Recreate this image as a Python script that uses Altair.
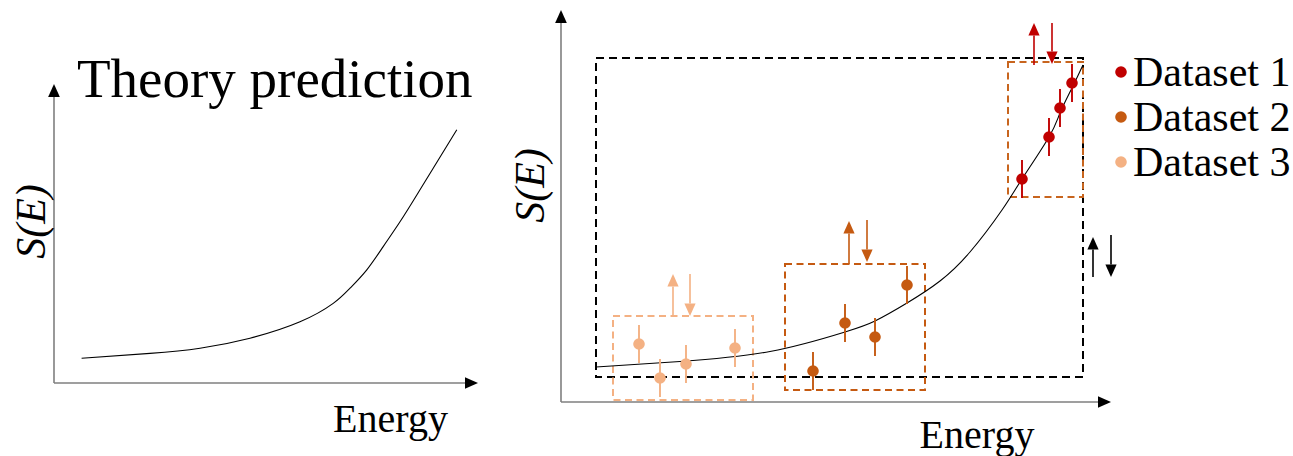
import altair as alt
import pandas as pd

# ---------------- data (arbitrary units: Energy, S(E)) ----------------
# Left panel: theory prediction
theory_energy = [0.69, 2.4, 3.65, 4.9, 6.15, 6.98, 7.4, 7.82, 8.23, 8.65, 9.07, 9.48, 10.07]
theory_s = [0.62, 0.74, 0.87, 1.12, 1.53, 1.99, 2.37, 2.83, 3.41, 4.03, 4.7, 5.37, 6.33]

# Right panel: curve through the measurements
fit_energy = [0.875, 2.975, 5.225, 7.1, 7.85, 8.65, 9.475, 10.225, 11.025, 11.525,
              12.2, 12.475, 12.775, 13.05]
fit_s = [0.875, 1.0125, 1.2625, 1.75, 2.025, 2.475, 3.025, 3.75, 4.8, 5.575,
         6.625, 7.225, 7.85, 8.425]

datasets = ["Dataset 1", "Dataset 2", "Dataset 3"]
colors = ["#C00000", "#C55A11", "#F4B183"]

ds1_energy = [11.525, 12.2, 12.475, 12.775]
ds1_s = [5.575, 6.625, 7.35, 7.975]
ds1_err = [0.475, 0.475, 0.475, 0.475]

ds2_energy = [6.3, 7.1, 7.85, 8.65]
ds2_s = [0.775, 1.975, 1.625, 2.925]
ds2_err = [0.475, 0.475, 0.475, 0.475]

ds3_energy = [1.95, 2.475, 3.125, 4.35]
ds3_s = [1.45, 0.6, 0.95, 1.35]
ds3_err = [0.475, 0.475, 0.475, 0.475]

# Normalisation windows (dashed boxes)
box_group = ["all", "Dataset 1", "Dataset 2", "Dataset 3"]
box_e0 = [0.875, 11.175, 5.6, 1.3]
box_e1 = [13.05, 13.05, 9.1, 4.8]
box_s0 = [0.625, 5.125, 0.3, 0.05]
box_s1 = [8.6, 8.5, 3.45, 2.15]

# Shift arrows (energy, start, tip)
arrow_group = ["Dataset 3", "Dataset 3", "Dataset 2", "Dataset 2",
               "Dataset 1", "Dataset 1", "all", "all"]
arrow_e = [2.8, 3.225, 7.2, 7.65, 11.825, 12.275, 13.3, 13.75]
arrow_from = [2.15, 3.2, 3.45, 4.55, 8.425, 9.475, 3.125, 4.175]
arrow_to = [3.2, 2.15, 4.525, 3.5, 9.475, 8.45, 4.125, 3.125]

# Legend rows
legend_s = [8.25, 7.125, 6.0]
legend_e = 14.0

# Axis extents (arrow tips)
left_axis_tip_e, left_axis_tip_s = 10.6, 7.475
right_axis_tip_e, right_axis_tip_s = 13.75, 9.8

# ---------------- layout ----------------
PX = 40.0            # pixels per data unit in both panels
W, H = 1293, 456
SPLIT = 500          # left panel occupies [0, SPLIT), right panel the rest
LEFT_ORIGIN = (54, 383)
RIGHT_ORIGIN = (561, 402)
FONT = "Liberation Serif"
AXIS_GREY = "#7f7f7f"

UP = "M0,-1L0.9,1L-0.9,1Z"
DOWN = "M0,1L0.9,-1L-0.9,-1Z"
RIGHT = "M1,0L-1,-0.9L-1,0.9Z"

color_of = dict(zip(datasets, colors))
color_of["all"] = "#000000"
box_color = {"all": "#000000", "Dataset 1": "#C8651E",
             "Dataset 2": "#C55A11", "Dataset 3": "#F4B183"}


def make_scales(origin, x0, x1):
    """Scales of one panel spanning pixels [x0, x1] horizontally."""
    ox, oy = origin
    xs = alt.Scale(domain=[(x0 - ox) / PX, (x1 - ox) / PX], range=[x0, x1],
                   nice=False, zero=False)
    ys = alt.Scale(domain=[-(H - oy) / PX, oy / PX], range=[H, 0],
                   nice=False, zero=False)
    return xs, ys


def enc(xs, ys, xf="e", yf="s"):
    return dict(x=alt.X(xf, type="quantitative", scale=xs, axis=None),
                y=alt.Y(yf, type="quantitative", scale=ys, axis=None))


def axis_layers(xs, ys, tip_e, tip_s):
    head = 13.0 / PX
    shafts = pd.DataFrame({"e": [0.0, 0.0], "s": [0.0, 0.0],
                           "e2": [0.0, tip_e - head], "s2": [tip_s - head, 0.0]})
    rules = alt.Chart(shafts).mark_rule(color=AXIS_GREY, strokeWidth=1.6).encode(
        x2="e2:Q", y2="s2:Q", **enc(xs, ys))
    up = alt.Chart(pd.DataFrame({"e": [0.0], "s": [tip_s - head / 2]})).mark_point(
        shape=UP, filled=True, size=169, color="black", opacity=1, strokeWidth=0
    ).encode(**enc(xs, ys))
    right = alt.Chart(pd.DataFrame({"e": [tip_e - head / 2], "s": [0.0]})).mark_point(
        shape=RIGHT, filled=True, size=169, color="black", opacity=1, strokeWidth=0
    ).encode(**enc(xs, ys))
    return [rules, up, right]


def text_layer(xs, ys, e, s, text, size, align="center", baseline="alphabetic",
               angle=0, style="normal"):
    df = pd.DataFrame({"e": [e], "s": [s], "t": [text]})
    return alt.Chart(df).mark_text(
        font=FONT, fontSize=size, align=align, baseline=baseline, angle=angle,
        fontStyle=style, color="black").encode(text="t:N", **enc(xs, ys))


# ---------------- left panel ----------------
lxs, lys = make_scales(LEFT_ORIGIN, 0, SPLIT)
theory = pd.DataFrame({"e": theory_energy, "s": theory_s})
left_curve = alt.Chart(theory).mark_line(
    color="black", strokeWidth=1.1, interpolate="natural").encode(**enc(lxs, lys))

left = alt.layer(
    *axis_layers(lxs, lys, left_axis_tip_e, left_axis_tip_s),
    left_curve,
    text_layer(lxs, lys, 0.575, 7.15, "Theory prediction", 55, align="left"),
    text_layer(lxs, lys, 8.4125, -1.225, "Energy", 40),
    text_layer(lxs, lys, -0.225, 4.0375, "S(E)", 42, angle=270, style="italic"),
)

# ---------------- right panel ----------------
rxs, rys = make_scales(RIGHT_ORIGIN, SPLIT, W)

boxes = pd.DataFrame({"g": box_group, "e0": box_e0, "e1": box_e1,
                      "s0": box_s0, "s1": box_s1})
boxes["c"] = boxes["g"].map(box_color)
black_box = alt.Chart(boxes[boxes.g == "all"]).mark_rect(
    fillOpacity=0, strokeWidth=2, strokeDash=[8, 5]).encode(
    x2="e1:Q", y2="s1:Q", stroke=alt.Color("c:N", scale=None),
    **enc(rxs, rys, "e0", "s0"))
color_boxes = alt.Chart(boxes[boxes.g != "all"]).mark_rect(
    fillOpacity=0, strokeWidth=2, strokeDash=[7, 4.5]).encode(
    x2="e1:Q", y2="s1:Q", stroke=alt.Color("c:N", scale=None),
    **enc(rxs, rys, "e0", "s0"))

fit = pd.DataFrame({"e": fit_energy, "s": fit_s})
right_curve = alt.Chart(fit).mark_line(
    color="black", strokeWidth=1.1, interpolate="natural").encode(**enc(rxs, rys))

points = pd.concat([
    pd.DataFrame({"g": name, "e": e, "s": s, "err": err})
    for name, e, s, err in [
        ("Dataset 3", ds3_energy, ds3_s, ds3_err),
        ("Dataset 2", ds2_energy, ds2_s, ds2_err),
        ("Dataset 1", ds1_energy, ds1_s, ds1_err),
    ]
], ignore_index=True)
points["c"] = points["g"].map(color_of)
points["lo"] = points["s"] - points["err"]
points["hi"] = points["s"] + points["err"]

err_bars = alt.Chart(points).mark_rule(strokeWidth=1.9).encode(
    y2="hi:Q", color=alt.Color("c:N", scale=None), **enc(rxs, rys, "e", "lo"))
dots = alt.Chart(points).mark_circle(size=135, opacity=1).encode(
    color=alt.Color("c:N", scale=None), **enc(rxs, rys))

# shift arrows: shaft up to the head base, then a triangular head
HEAD = 12.5 / PX
arrows = pd.DataFrame({"g": arrow_group, "e": arrow_e,
                       "s0": arrow_from, "tip": arrow_to})
arrows["c"] = arrows["g"].map(color_of)
arrows["dir"] = [1 if t > f else -1 for f, t in zip(arrows.s0, arrows.tip)]
arrows["s1"] = arrows["tip"] - arrows["dir"] * HEAD
arrows["hc"] = arrows["tip"] - arrows["dir"] * HEAD / 2
shafts = alt.Chart(arrows).mark_rule(strokeWidth=1.6).encode(
    y2="s1:Q", color=alt.Color("c:N", scale=None), **enc(rxs, rys, "e", "s0"))
heads_up = alt.Chart(arrows[arrows.dir > 0]).mark_point(
    shape=UP, filled=True, size=156, opacity=1, strokeWidth=0).encode(
    color=alt.Color("c:N", scale=None), **enc(rxs, rys, "e", "hc"))
heads_down = alt.Chart(arrows[arrows.dir < 0]).mark_point(
    shape=DOWN, filled=True, size=156, opacity=1, strokeWidth=0).encode(
    color=alt.Color("c:N", scale=None), **enc(rxs, rys, "e", "hc"))

legend = pd.DataFrame({"label": datasets, "c": colors, "s": legend_s})
legend["e"] = legend_e
legend_dots = alt.Chart(legend).mark_circle(size=135, opacity=1).encode(
    color=alt.Color("c:N", scale=None), **enc(rxs, rys))
legend_text = alt.Chart(legend).mark_text(
    font=FONT, fontSize=42, align="left", baseline="alphabetic",
    dx=12, dy=14, color="black").encode(text="label:N", **enc(rxs, rys))

right = alt.layer(
    *axis_layers(rxs, rys, right_axis_tip_e, right_axis_tip_s),
    black_box, color_boxes, right_curve, err_bars, dots,
    shafts, heads_up, heads_down, legend_dots, legend_text,
    text_layer(rxs, rys, 10.4, -1.15, "Energy", 40),
    text_layer(rxs, rys, -0.425, 5.4125, "S(E)", 42, angle=270, style="italic"),
)

chart = alt.layer(left, right).resolve_scale(
    x="independent", y="independent"
).properties(
    width=W, height=H, padding=0, background="white",
    autosize=alt.AutoSizeParams(type="none"),
).configure_view(strokeWidth=0)

chart.save("out.html", embed_options={"renderer": "svg", "actions": False})
